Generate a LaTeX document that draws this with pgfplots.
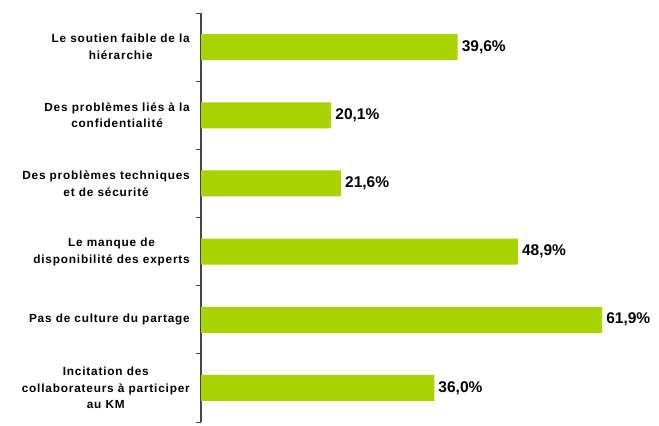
\documentclass[border=0pt]{standalone}
\usepackage{fontspec}
\setmainfont{Liberation Sans}
\newfontfamily\catfont[LetterSpace=7]{Liberation Sans}
\usepackage{pgfplots}
\pgfplotsset{compat=1.18}
\definecolor{barg}{RGB}{168,210,0}
\definecolor{axg}{RGB}{70,70,70}
\begin{document}
\begin{tikzpicture}
\begin{axis}[
  at={(201bp,4bp)}, anchor=south west,
  scale only axis, width=453.6bp, height=409bp,
  xmin=0, xmax=70, ymin=0.5, ymax=6.5, y dir=reverse,
  hide x axis,
  axis y line*=left,
  y axis line style={draw=axg, line width=1.3bp, -},
  ytick={1,...,6}, major tick length=0pt,
  minor ytick={0.5,1.5,...,6.5}, minor tick length=5bp,
  tick align=outside,
  minor tick style={draw=axg, line width=1bp},
  yticklabels={{Le soutien faible de la\\hiérarchie},
               {Des problèmes liés à la\\confidentialité},
               {Des problèmes techniques\\et de sécurité},
               {Le manque de\\disponibilité des experts},
               {Pas de culture du partage},
               {Incitation des\\collaborateurs à participer\\au KM}},
  yticklabel style={align=center, font=\catfont\bfseries\fontsize{11.8bp}{16.8bp}\selectfont, inner sep=0pt, xshift=-11bp, text=black},
  clip=false,
  xbar, bar width=26bp, bar shift=0pt,
  point meta=explicit symbolic,
  nodes near coords,
  every node near coord/.append style={font=\bfseries\fontsize{15.5bp}{17bp}\selectfont, anchor=west, inner sep=0pt, xshift=4bp, text=black},
]
\addplot[fill=barg, draw=none] coordinates {
  (39.6,1) [39,6\%]
  (20.1,2) [20,1\%]
  (21.6,3) [21,6\%]
  (48.9,4) [48,9\%]
  (61.9,5) [61,9\%]
  (36.0,6) [36,0\%]
};
\end{axis}
\pgfresetboundingbox
\path[use as bounding box] (0,0) rectangle (659bp,426bp);
\end{tikzpicture}
\end{document}
